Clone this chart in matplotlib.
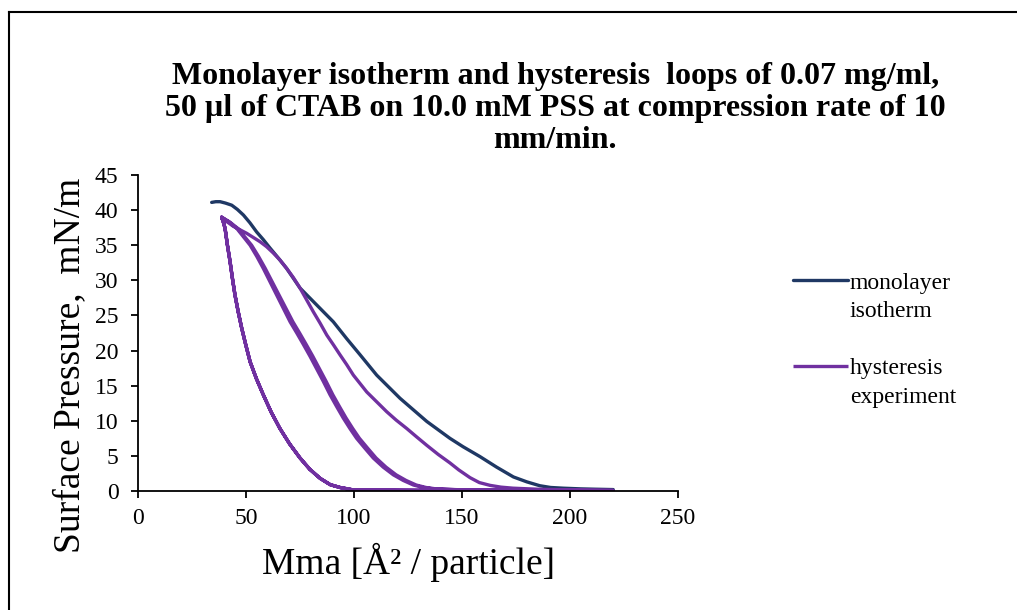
import numpy as np
import matplotlib
matplotlib.use("Agg")
import matplotlib.pyplot as plt
from matplotlib.lines import Line2D

plt.rcParams['font.family'] = ['Liberation Serif', 'DejaVu Serif']

# monolayer isotherm (area, pressure)
iso_x = [34.1, 36.0, 38.0, 40.5, 43.4, 46.0, 48.8, 51.8, 54.9, 58.0, 61.1, 64.9, 68.8, 75.0,
         82.7, 90.4, 96.6, 102.8, 110.5, 121.3, 133.7, 144.4, 150.5, 158.3, 166.0, 173.8,
         180.0, 186.0, 191.0, 196.8, 205.0, 212.0, 220.0]
iso_y = [41.1, 41.2, 41.2, 41.0, 40.7, 40.1, 39.3, 38.2, 36.9, 35.8, 34.6, 33.2, 31.7, 28.9,
         26.5, 24.1, 21.7, 19.4, 16.5, 13.2, 9.9, 7.5, 6.3, 4.9, 3.4, 2.0,
         1.3, 0.75, 0.5, 0.4, 0.3, 0.25, 0.2]

# hysteresis: first compression (outer)
c1_x = [220.0, 200.0, 185.0, 173.6, 168.0, 163.0, 158.0, 153.7, 148.5, 144.4, 139.0, 133.7,
        129.0, 124.4, 119.5, 115.1, 110.5, 105.9, 102.8, 99.7, 96.6, 93.5, 90.5, 87.4, 84.3,
        81.2, 78.1, 75.0, 71.9, 68.8, 65.7, 62.6, 59.5, 56.5, 53.4, 50.3, 47.2, 44.1, 41.4, 38.7]
c1_y = [0.1, 0.15, 0.25, 0.4, 0.55, 0.8, 1.2, 1.9, 3.0, 4.0, 5.2, 6.5,
        7.7, 8.9, 10.1, 11.3, 12.7, 14.1, 15.3, 16.5, 18.0, 19.4, 20.8, 22.2, 23.9,
        25.5, 27.2, 28.9, 30.4, 31.7, 32.9, 33.9, 34.8, 35.5, 36.1, 36.7, 37.2, 37.7, 38.3, 39.0]

# expansion (inner, shared by all cycles)
e_x = [38.7, 39.5, 40.3, 41.4, 42.6, 43.7, 44.9, 46.4, 48.0, 49.9, 51.9, 54.8, 58.0, 61.7,
       65.7, 70.2, 75.0, 79.5, 84.3, 89.0, 93.5, 99.7, 110.0, 130.0, 160.0, 190.0, 220.0]
e_y = [39.0, 38.3, 37.4, 35.0, 32.7, 30.3, 27.9, 25.5, 23.2, 20.8, 18.4, 16.0, 13.7, 11.2,
       8.9, 6.7, 4.7, 3.1, 1.8, 0.9, 0.5, 0.15, 0.1, 0.08, 0.06, 0.05, 0.05]

# second and third compressions (middle pair)
c2_x = [220.0, 180.0, 150.0, 136.7, 132.0, 127.5, 122.8, 118.2, 113.5, 108.9, 105.0, 101.2,
        98.1, 95.0, 92.0, 88.9, 85.8, 82.7, 79.6, 76.5, 73.5, 70.4, 67.3, 64.2, 61.1, 58.0,
        55.0, 51.9, 48.8, 45.7, 42.2, 38.7]
c2_y = [0.05, 0.08, 0.15, 0.3, 0.5, 0.85, 1.5, 2.3, 3.4, 4.7, 6.1, 7.5,
        8.9, 10.4, 12.0, 13.7, 15.6, 17.4, 19.2, 20.9, 22.5, 24.1, 26.0, 27.9, 29.8, 31.7,
        33.4, 35.0, 36.2, 37.4, 38.3, 39.0]
c3_x = [220.0, 180.0, 151.0, 138.0, 133.3, 128.8, 124.1, 119.5, 114.8, 110.2, 106.3, 102.5,
        99.4, 96.3, 93.3, 90.2, 87.1, 84.0, 80.9, 77.8, 74.8, 71.7, 68.5, 65.3, 62.1, 58.9,
        55.8, 52.6, 49.4, 46.2, 42.5, 38.7]
c3_y = c2_y

hyst_x = c1_x + e_x[1:] + c2_x[1:] + e_x[1:] + c3_x[1:] + e_x[1:]
hyst_y = c1_y + e_y[1:] + c2_y[1:] + e_y[1:] + c3_y[1:] + e_y[1:]

navy = '#1F3864'
purple = '#7030A0'

fig = plt.figure(figsize=(10.17, 6.10), dpi=100)
ax = fig.add_axes([0.1357, 0.1951, 0.531, 0.518])

l1, = ax.plot(iso_x, iso_y, color=navy, lw=2.4, solid_capstyle='round', solid_joinstyle='round')
l2, = ax.plot(hyst_x, hyst_y, color=purple, lw=2.4, solid_capstyle='butt', solid_joinstyle='round')

ax.set_xlim(0, 250)
ax.set_ylim(0, 45)
ax.set_xticks(np.arange(0, 251, 50))
ax.set_yticks(np.arange(0, 46, 5))
ax.spines['top'].set_visible(False)
ax.spines['right'].set_visible(False)
ax.spines['left'].set_linewidth(1.3)
ax.spines['bottom'].set_linewidth(1.3)
ax.tick_params(axis='both', direction='out', length=5, width=1.3, labelsize=17)
ax.tick_params(axis='y', pad=9)
ax.tick_params(axis='x', pad=7)

ax.set_xlabel('Mma [Å² / particle]', fontsize=27, labelpad=10)
ax.set_ylabel('Surface Pressure,  mN/m', fontsize=27)
ax.yaxis.set_label_coords(-0.094, 0.399)

fig.text(0.546, 0.822, 'Monolayer isotherm and hysteresis  loops of 0.07 mg/ml,\n'
         '50 µl of CTAB on 10.0 mM PSS at compression rate of 10\nmm/min.',
         ha='center', va='center', fontsize=23, fontweight='bold', linespacing=1.14)

blank = Line2D([], [], color='none')
ax.legend([l1, blank, blank, l2, blank],
          ['monolayer', 'isotherm', ' ', 'hysteresis', 'experiment'],
          loc='upper left', bbox_to_anchor=(0.780, 0.554), bbox_transform=fig.transFigure,
          frameon=False, fontsize=17, handlelength=2.3, handletextpad=0.1,
          labelspacing=0.3, borderpad=0, borderaxespad=0)

# outer frame (left and top edges visible)
fig.add_artist(Line2D([0.009, 0.009], [0.0, 0.981], color='black', lw=1.5, transform=fig.transFigure))
fig.add_artist(Line2D([0.009, 1.0], [0.981, 0.981], color='black', lw=1.5, transform=fig.transFigure))

fig.savefig('out.png', dpi=100)
